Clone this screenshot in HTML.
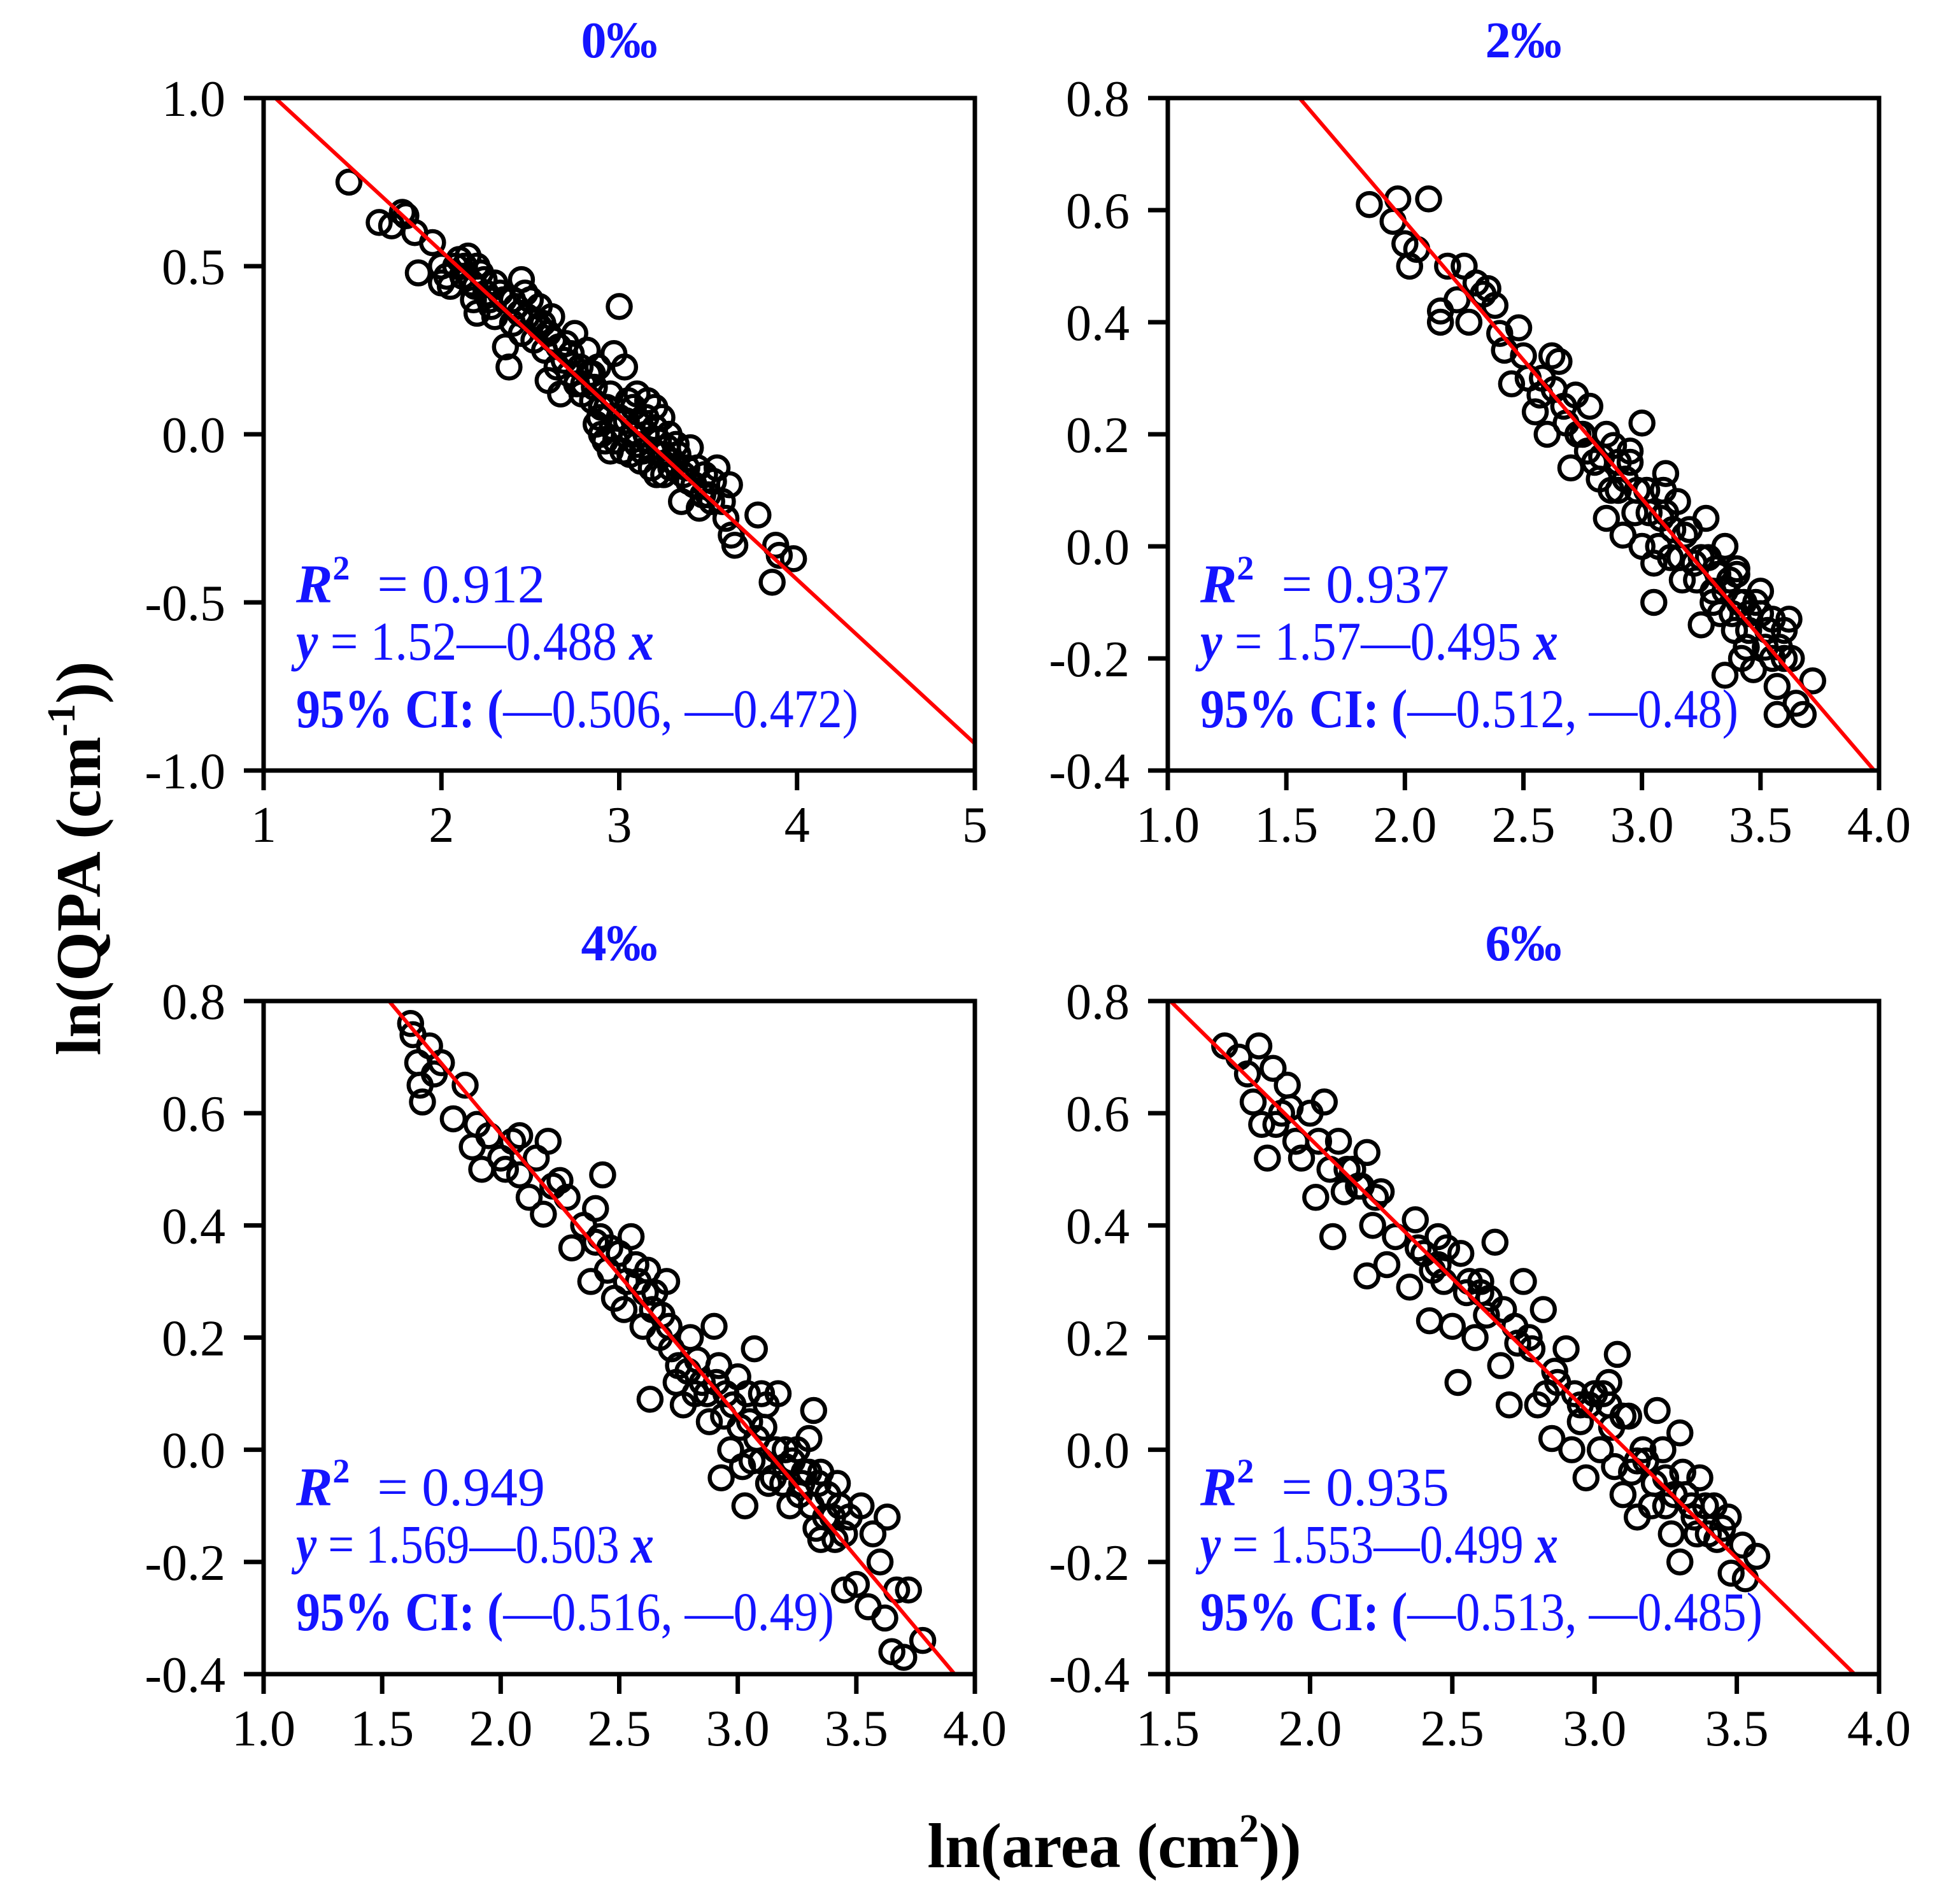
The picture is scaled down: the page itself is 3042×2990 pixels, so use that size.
<!DOCTYPE html>
<html><head><meta charset="utf-8">
<style>
html,body{margin:0;padding:0;background:#fff;}
svg{display:block;font-family:"Liberation Serif",serif;}
</style></head>
<body>
<svg id="fig" width="3042" height="2990" viewBox="0 0 3042 2990" xmlns="http://www.w3.org/2000/svg">
<text x="0" y="0" transform="translate(157,1348) rotate(-90)" text-anchor="middle" font-size="100" font-weight="bold">ln(QPA (cm<tspan font-size="62" dy="-40">-1</tspan><tspan dy="40">))</tspan></text>
<text x="1750" y="2932" text-anchor="middle" font-size="100" font-weight="bold">ln(area (cm<tspan font-size="62" dy="-40">2</tspan><tspan dy="40">))</tspan></text>
</svg>
<script>
const NS="http://www.w3.org/2000/svg";
const svg=document.getElementById('fig');
// ---- data ----
const titles=["0‰","2‰","4‰","6‰"];
const r2Values=["0.912","0.937","0.949","0.935"];
const intercepts=[1.52,1.57,1.569,1.553];
const slopes=[-0.488,-0.495,-0.503,-0.499];
const interceptLabels=["1.52","1.57","1.569","1.553"];
const slopeLabels=["0.488","0.495","0.503","0.499"];
const ciLow=["0.506","0.512","0.516","0.513"];
const ciHigh=["0.472","0.48","0.49","0.485"];
const xDomains=[[1,5],[1,4],[1,4],[1.5,4]];
const yDomains=[[-1,1],[-0.4,0.8],[-0.4,0.8],[-0.4,0.8]];
const xTicks=[["1","2","3","4","5"],["1.0","1.5","2.0","2.5","3.0","3.5","4.0"],["1.0","1.5","2.0","2.5","3.0","3.5","4.0"],["1.5","2.0","2.5","3.0","3.5","4.0"]];
const yTicks=[["-1.0","-0.5","0.0","0.5","1.0"],["-0.4","-0.2","0.0","0.2","0.4","0.6","0.8"],["-0.4","-0.2","0.0","0.2","0.4","0.6","0.8"],["-0.4","-0.2","0.0","0.2","0.4","0.6","0.8"]];
const pts0=[[1.48,0.75],[1.65,0.63],[1.72,0.62],[1.78,0.66],[1.8,0.65],[1.85,0.6],[1.87,0.48],[1.95,0.57],[2.0,0.5],[2.0,0.45],[2.03,0.47],[2.05,0.44],[2.08,0.5],[2.1,0.52],[2.12,0.47],[2.15,0.53],[2.17,0.45],[2.18,0.4],[2.2,0.5],[2.22,0.48],[2.25,0.42],[2.28,0.38],[2.3,0.45],[2.35,0.4],[2.36,0.26],[2.38,0.2],[2.4,0.33],[2.42,0.38],[2.45,0.46],[2.45,0.3],[2.48,0.35],[2.5,0.4],[2.52,0.28],[2.55,0.38],[2.58,0.25],[2.6,0.3],[2.6,0.16],[2.62,0.35],[2.65,0.2],[2.67,0.12],[2.7,0.27],[2.72,0.18],[2.75,0.3],[2.78,0.2],[2.8,0.15],[2.82,0.25],[2.85,0.1],[2.87,0.03],[2.88,0.2],[2.9,0.08],[2.92,-0.02],[2.95,0.12],[2.97,0.24],[3.0,0.38],[3.0,0.05],[3.02,-0.05],[3.03,0.2],[3.05,0.1],[3.07,0.0],[3.1,0.12],[3.12,-0.08],[3.15,0.05],[3.18,-0.1],[3.2,0.08],[3.22,-0.02],[3.25,-0.12],[3.28,0.0],[3.3,-0.08],[3.32,-0.03],[3.35,-0.2],[3.38,-0.1],[3.4,-0.04],[3.42,-0.15],[3.45,-0.22],[3.48,-0.12],[3.5,-0.18],[3.52,-0.2],[3.55,-0.1],[3.58,-0.2],[3.6,-0.25],[3.62,-0.15],[3.63,-0.3],[3.65,-0.33],[3.78,-0.24],[3.86,-0.44],[3.88,-0.33],[3.9,-0.36],[3.98,-0.37],[3.1,-0.03],[3.2,0.02],[2.95,-0.05],[2.2,0.36],[2.3,0.35],[3.15,0.0],[3.25,-0.06],[2.85,0.18],[2.55,0.32],
[2.13,0.5],[2.19,0.44],[2.24,0.46],[2.33,0.42],[2.4,0.4],[2.44,0.36],[2.47,0.42],[2.52,0.34],[2.57,0.33],[2.63,0.28],[2.66,0.26],[2.69,0.22],[2.73,0.24],[2.76,0.15],[2.79,0.12],[2.83,0.18],[2.86,0.14],[2.89,0.05],[2.93,0.08],[2.96,0.02],[2.98,-0.02],[3.04,0.04],[3.06,-0.06],[3.08,0.08],[3.11,0.03],[3.13,-0.05],[3.16,0.1],[3.19,-0.05],[3.21,-0.12],[3.24,0.05],[3.27,-0.04],[3.29,-0.1],[3.33,-0.06],[3.36,-0.12],[3.39,-0.14],[3.44,-0.1],[3.47,-0.18],[3.53,-0.14],[2.27,0.4],[2.9,0.0]];
const pts1=[[1.85,0.61],[1.95,0.58],[1.97,0.62],[2.0,0.54],[2.02,0.5],[2.05,0.53],[2.1,0.62],[2.15,0.4],[2.15,0.42],[2.18,0.5],[2.22,0.44],[2.25,0.5],[2.27,0.4],[2.3,0.47],[2.35,0.46],[2.38,0.43],[2.4,0.38],[2.42,0.35],[2.45,0.29],[2.48,0.39],[2.5,0.34],[2.55,0.24],[2.58,0.3],[2.6,0.2],[2.62,0.34],[2.65,0.33],[2.68,0.22],[2.7,0.14],[2.72,0.27],[2.75,0.2],[2.78,0.25],[2.8,0.15],[2.82,0.12],[2.85,0.2],[2.85,0.05],[2.88,0.18],[2.9,0.1],[2.92,0.02],[2.95,0.15],[2.97,0.06],[3.0,0.22],[3.0,0.0],[3.02,0.1],[3.05,-0.03],[3.05,-0.1],[3.08,0.05],[3.1,0.13],[3.12,-0.02],[3.15,0.08],[3.17,-0.06],[3.2,0.03],[3.22,-0.03],[3.25,-0.14],[3.27,0.05],[3.3,-0.1],[3.32,-0.05],[3.35,0.0],[3.35,-0.23],[3.38,-0.12],[3.4,-0.05],[3.42,-0.2],[3.43,-0.1],[3.45,-0.15],[3.47,-0.22],[3.5,-0.12],[3.5,-0.08],[3.52,-0.18],[3.55,-0.13],[3.57,-0.25],[3.57,-0.3],[3.6,-0.15],[3.6,-0.2],[3.62,-0.13],[3.65,-0.28],[3.68,-0.3],[3.72,-0.24],[3.3,-0.08],[3.4,-0.04],[3.1,0.06],[2.95,0.17],[3.25,-0.02],[3.35,-0.08],[3.45,-0.12],[2.9,0.15],
[2.33,0.45],[2.63,0.28],[2.67,0.25],[2.73,0.2],[2.77,0.17],[2.83,0.16],[2.87,0.1],[2.93,0.12],[2.98,0.1],[3.03,0.06],[3.07,0.0],[3.09,0.1],[3.13,0.03],[3.16,-0.02],[3.18,0.02],[3.23,-0.06],[3.28,-0.02],[3.31,-0.04],[3.33,-0.12],[3.37,-0.06],[3.39,-0.15],[3.41,-0.1],[3.44,-0.18],[3.48,-0.1],[3.53,-0.15],[3.55,-0.2],[3.58,-0.18],[3.63,-0.2],[2.52,0.3],[2.57,0.27]];
const pts2=[[1.62,0.76],[1.63,0.74],[1.65,0.69],[1.66,0.65],[1.67,0.62],[1.7,0.72],[1.72,0.67],[1.75,0.69],[1.8,0.59],[1.85,0.65],[1.88,0.54],[1.9,0.58],[1.92,0.5],[1.95,0.56],[2.0,0.52],[2.02,0.5],[2.05,0.55],[2.08,0.56],[2.12,0.45],[2.15,0.52],[2.18,0.42],[2.2,0.55],[2.22,0.47],[2.25,0.48],[2.3,0.36],[2.35,0.4],[2.38,0.3],[2.4,0.43],[2.42,0.38],[2.43,0.49],[2.45,0.32],[2.48,0.27],[2.5,0.35],[2.52,0.25],[2.55,0.38],[2.58,0.3],[2.6,0.22],[2.62,0.32],[2.63,0.09],[2.65,0.28],[2.68,0.24],[2.7,0.3],[2.72,0.18],[2.75,0.15],[2.77,0.08],[2.8,0.2],[2.82,0.1],[2.85,0.12],[2.88,0.05],[2.9,0.22],[2.92,0.15],[2.93,-0.05],[2.95,0.1],[2.97,0.0],[3.0,0.13],[3.02,-0.03],[3.03,-0.1],[3.05,0.05],[3.07,0.18],[3.1,-0.02],[3.12,0.08],[3.15,-0.05],[3.17,0.1],[3.2,-0.03],[3.22,-0.1],[3.25,0.0],[3.27,-0.06],[3.3,0.02],[3.32,0.07],[3.33,-0.14],[3.35,-0.16],[3.38,-0.08],[3.4,-0.12],[3.42,-0.06],[3.45,-0.15],[3.45,-0.25],[3.5,-0.24],[3.52,-0.1],[3.55,-0.28],[3.57,-0.15],[3.6,-0.2],[3.62,-0.3],[3.63,-0.12],[3.65,-0.36],[3.67,-0.25],[3.7,-0.37],[3.72,-0.25],[3.78,-0.34],[3.35,-0.04],[3.1,0.1],[2.4,0.37],[3.2,0.0],[3.3,-0.04],
[2.46,0.36],[2.53,0.3],[2.57,0.33],[2.61,0.28],[2.64,0.25],[2.67,0.2],[2.71,0.22],[2.74,0.12],[2.79,0.14],[2.83,0.16],[2.87,0.1],[2.91,0.12],[2.94,0.06],[2.98,0.08],[3.01,0.04],[3.04,0.1],[3.06,-0.02],[3.08,0.02],[3.11,0.04],[3.13,-0.06],[3.16,0.0],[3.19,-0.06],[3.23,-0.02],[3.26,-0.08],[3.28,-0.04],[3.31,-0.1],[3.34,-0.06],[3.37,-0.12],[3.41,-0.16],[3.43,-0.1],[3.47,-0.12],[2.08,0.49],[2.28,0.45]];
const pts3=[[1.7,0.72],[1.75,0.7],[1.78,0.67],[1.8,0.62],[1.82,0.72],[1.83,0.58],[1.85,0.52],[1.87,0.68],[1.9,0.6],[1.92,0.65],[1.95,0.55],[1.97,0.52],[2.0,0.6],[2.02,0.45],[2.05,0.62],[2.07,0.5],[2.08,0.38],[2.1,0.55],[2.12,0.46],[2.15,0.5],[2.18,0.47],[2.2,0.53],[2.2,0.31],[2.22,0.4],[2.25,0.46],[2.27,0.33],[2.3,0.38],[2.35,0.29],[2.37,0.41],[2.4,0.35],[2.42,0.23],[2.45,0.38],[2.47,0.3],[2.5,0.22],[2.52,0.12],[2.53,0.35],[2.55,0.28],[2.58,0.2],[2.6,0.3],[2.62,0.24],[2.65,0.37],[2.67,0.15],[2.7,0.08],[2.72,0.22],[2.75,0.3],[2.78,0.18],[2.8,0.08],[2.82,0.25],[2.85,0.02],[2.87,0.12],[2.9,0.18],[2.92,0.0],[2.95,0.08],[2.97,-0.05],[3.0,0.1],[3.02,0.0],[3.05,0.12],[3.07,-0.03],[3.08,0.17],[3.1,-0.08],[3.12,0.06],[3.15,-0.12],[3.17,0.0],[3.2,-0.1],[3.22,0.07],[3.25,-0.05],[3.27,-0.15],[3.3,-0.2],[3.3,0.03],[3.32,-0.08],[3.35,-0.12],[3.37,-0.05],[3.4,-0.15],[3.42,-0.1],[3.45,-0.14],[3.48,-0.22],[3.52,-0.17],[3.53,-0.23],[3.57,-0.19],[3.15,-0.02],[2.95,0.05],[2.45,0.33],[3.25,-0.1],[3.05,0.08],[2.6,0.28],
[1.88,0.58],[1.93,0.61],[2.03,0.55],[2.13,0.5],[2.17,0.47],[2.23,0.45],[2.38,0.36],[2.43,0.32],[2.48,0.36],[2.56,0.3],[2.63,0.27],[2.68,0.25],[2.73,0.19],[2.77,0.2],[2.83,0.1],[2.86,0.14],[2.93,0.1],[2.98,0.08],[3.03,0.1],[3.06,0.04],[3.1,0.06],[3.13,-0.04],[3.18,-0.02],[3.21,-0.06],[3.24,0.0],[3.28,-0.08],[3.31,-0.04],[3.34,-0.1],[3.36,-0.15],[3.39,-0.1],[3.43,-0.16],[3.47,-0.12]];
const allPoints=[pts0,pts1,pts2,pts3];
// ---- layout ----
const boxes=[[414,154,1531,1210],[1834,154,2951,1210],[414,1572,1531,2629],[1834,1572,2951,2629]];
const BLUE="#1414ff";
function mk(tag,attrs,parent){const e=document.createElementNS(NS,tag);for(const k in attrs)e.setAttribute(k,attrs[k]);(parent||svg).appendChild(e);return e;}
for(let p=0;p<4;p++){
  const [L,T,R,B]=boxes[p];
  const xd=xDomains[p], yd=yDomains[p];
  const sx=v=>L+(v-xd[0])/(xd[1]-xd[0])*(R-L);
  const sy=v=>B-(v-yd[0])/(yd[1]-yd[0])*(B-T);
  const g=mk('g',{});
  
  
  const cp=mk('clipPath',{id:'clip'+p},g);
  mk('rect',{x:L,y:T,width:R-L,height:B-T},cp);
  const title=mk('text',{x:(L+R)/2,y:T-64,'text-anchor':'middle','font-size':80,'font-weight':'bold',fill:BLUE},g);
  title.textContent=titles[p];
  
  
  const pg=mk('g',{'clip-path':'url(#clip'+p+')'},g);
  
  
  allPoints[p].forEach(d=>{
    const c=mk('circle',{cx:sx(d[0]),cy:sy(d[1]),r:18,fill:'none',stroke:'#000','stroke-width':6.5},pg);
    
    
  });
  const ln=mk('line',{x1:sx(xd[0]),y1:sy(intercepts[p]+slopes[p]*xd[0]),x2:sx(xd[1]),y2:sy(intercepts[p]+slopes[p]*xd[1]),stroke:'#ff0000','stroke-width':6,'clip-path':'url(#clip'+p+')'},g);
  
  
  const bx=mk('rect',{x:L,y:T,width:R-L,height:B-T,fill:'none',stroke:'#000','stroke-width':7},g);
  
  
  yTicks[p].forEach(t=>{
    const y=sy(parseFloat(t));
    mk('line',{x1:L-31,y1:y,x2:L,y2:y,stroke:'#000','stroke-width':7},g);
    const tx=mk('text',{x:L-60,y:y+28,'text-anchor':'end','font-size':80},g);
    tx.textContent=t;
    
    
  });
  xTicks[p].forEach(t=>{
    const x=sx(parseFloat(t));
    mk('line',{x1:x,y1:B,x2:x,y2:B+31,stroke:'#000','stroke-width':7},g);
    const tx=mk('text',{x:x,y:B+112,'text-anchor':'middle','font-size':80},g);
    tx.textContent=t;
    
    
  });
  const ax=L+51;
  const a1=mk('text',{x:ax,y:T+792,'font-size':86,fill:BLUE},g);
  a1.innerHTML='<tspan font-weight="bold" font-style="italic">R</tspan><tspan font-weight="bold" font-size="54" dy="-36">2</tspan><tspan dy="36" xml:space="preserve">  = '+r2Values[p]+'</tspan>';
  
  
  const a2=mk('text',{x:ax,y:T+882,'font-size':86,fill:BLUE,textLength:562,lengthAdjust:'spacingAndGlyphs'},g);
  a2.innerHTML='<tspan font-weight="bold" font-style="italic">y</tspan> = '+interceptLabels[p]+'—'+slopeLabels[p]+' <tspan font-weight="bold" font-style="italic">x</tspan>';
  
  
  const ciLen = ciHigh[p].length===5 ? 883 : 845;
  const a3=mk('text',{x:ax,y:T+988,'font-size':86,fill:BLUE,textLength:ciLen,lengthAdjust:'spacingAndGlyphs'},g);
  a3.innerHTML='<tspan font-weight="bold">95% CI: (</tspan>—'+ciLow[p]+', —'+ciHigh[p]+')';
  
  
}
</script>
</body></html>
